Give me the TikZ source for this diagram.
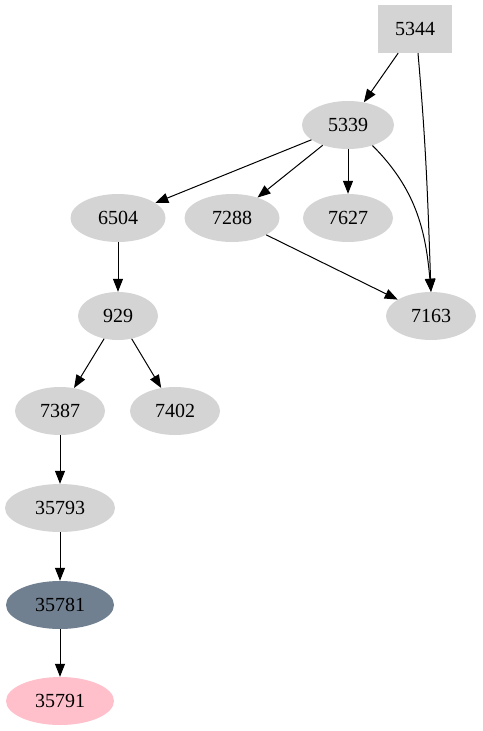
\documentclass[tikz,border=0pt]{standalone}
\usepackage{fontspec}
\setmainfont{Liberation Serif}
\usetikzlibrary{arrows.meta, shapes.geometric}

\begin{document}
\begin{tikzpicture}[
    x=1pt, y=-1pt,
    font=\fontsize{20}{24}\selectfont,
    >={Triangle[length=13pt, width=10pt]},
    gnode/.style={ellipse, fill=black!17, minimum width=90pt, minimum height=48pt, inner sep=0},
    gbox/.style={rectangle, fill=black!17, minimum width=74pt, minimum height=48pt, inner sep=0},
    edge/.style={->, line width=1pt}
]
    \useasboundingbox (0,0) rectangle (482,731);

    % Nodes
    \node[gbox] (n5344) at (415, 29) {5344};
    \node[gnode, minimum width=92pt] (n5339) at (348, 125) {5339};
    \node[gnode, minimum width=95pt] (n6504) at (118, 218) {6504};
    \node[gnode, minimum width=95pt] (n7288) at (232, 218) {7288};
    \node[gnode] (n7627) at (348, 218) {7627};
    \node[gnode] (n7163) at (431, 316) {7163};
    \node[gnode, minimum width=80pt] (n929) at (118, 316) {929};
    \node[gnode] (n7387) at (60, 411) {7387};
    \node[gnode] (n7402) at (175, 411) {7402};
    \node[gnode, minimum width=110pt] (n35793) at (60, 508) {35793};
    \node[gnode, minimum width=108pt, fill={rgb,255:red,112;green,128;blue,144}] (n35781) at (60, 605) {35781};
    \node[gnode, minimum width=108pt, fill={rgb,255:red,255;green,192;blue,203}] (n35791) at (60, 701) {35791};

    % Edges
    \draw[edge] (n5344.south) ++(3,0) to[out=-85, in=92] (n7163.north);
    \draw[edge] (n5344) -- (n5339);
    \draw[edge] (n5339) -- (n6504);
    \draw[edge] (n5339) -- (n7288);
    \draw[edge] (n5339) -- (n7627);
    \draw[edge] (n5339.-40) to[out=-45, in=95] (n7163.north);
    \draw[edge] (n7288) -- (n7163);
    \draw[edge] (n6504) -- (n929);
    \draw[edge] (n929) -- (n7387);
    \draw[edge] (n929) -- (n7402);
    \draw[edge] (n7387) -- (n35793);
    \draw[edge] (n35793) -- (n35781);
    \draw[edge] (n35781) -- (n35791);

\end{tikzpicture}
\end{document}
